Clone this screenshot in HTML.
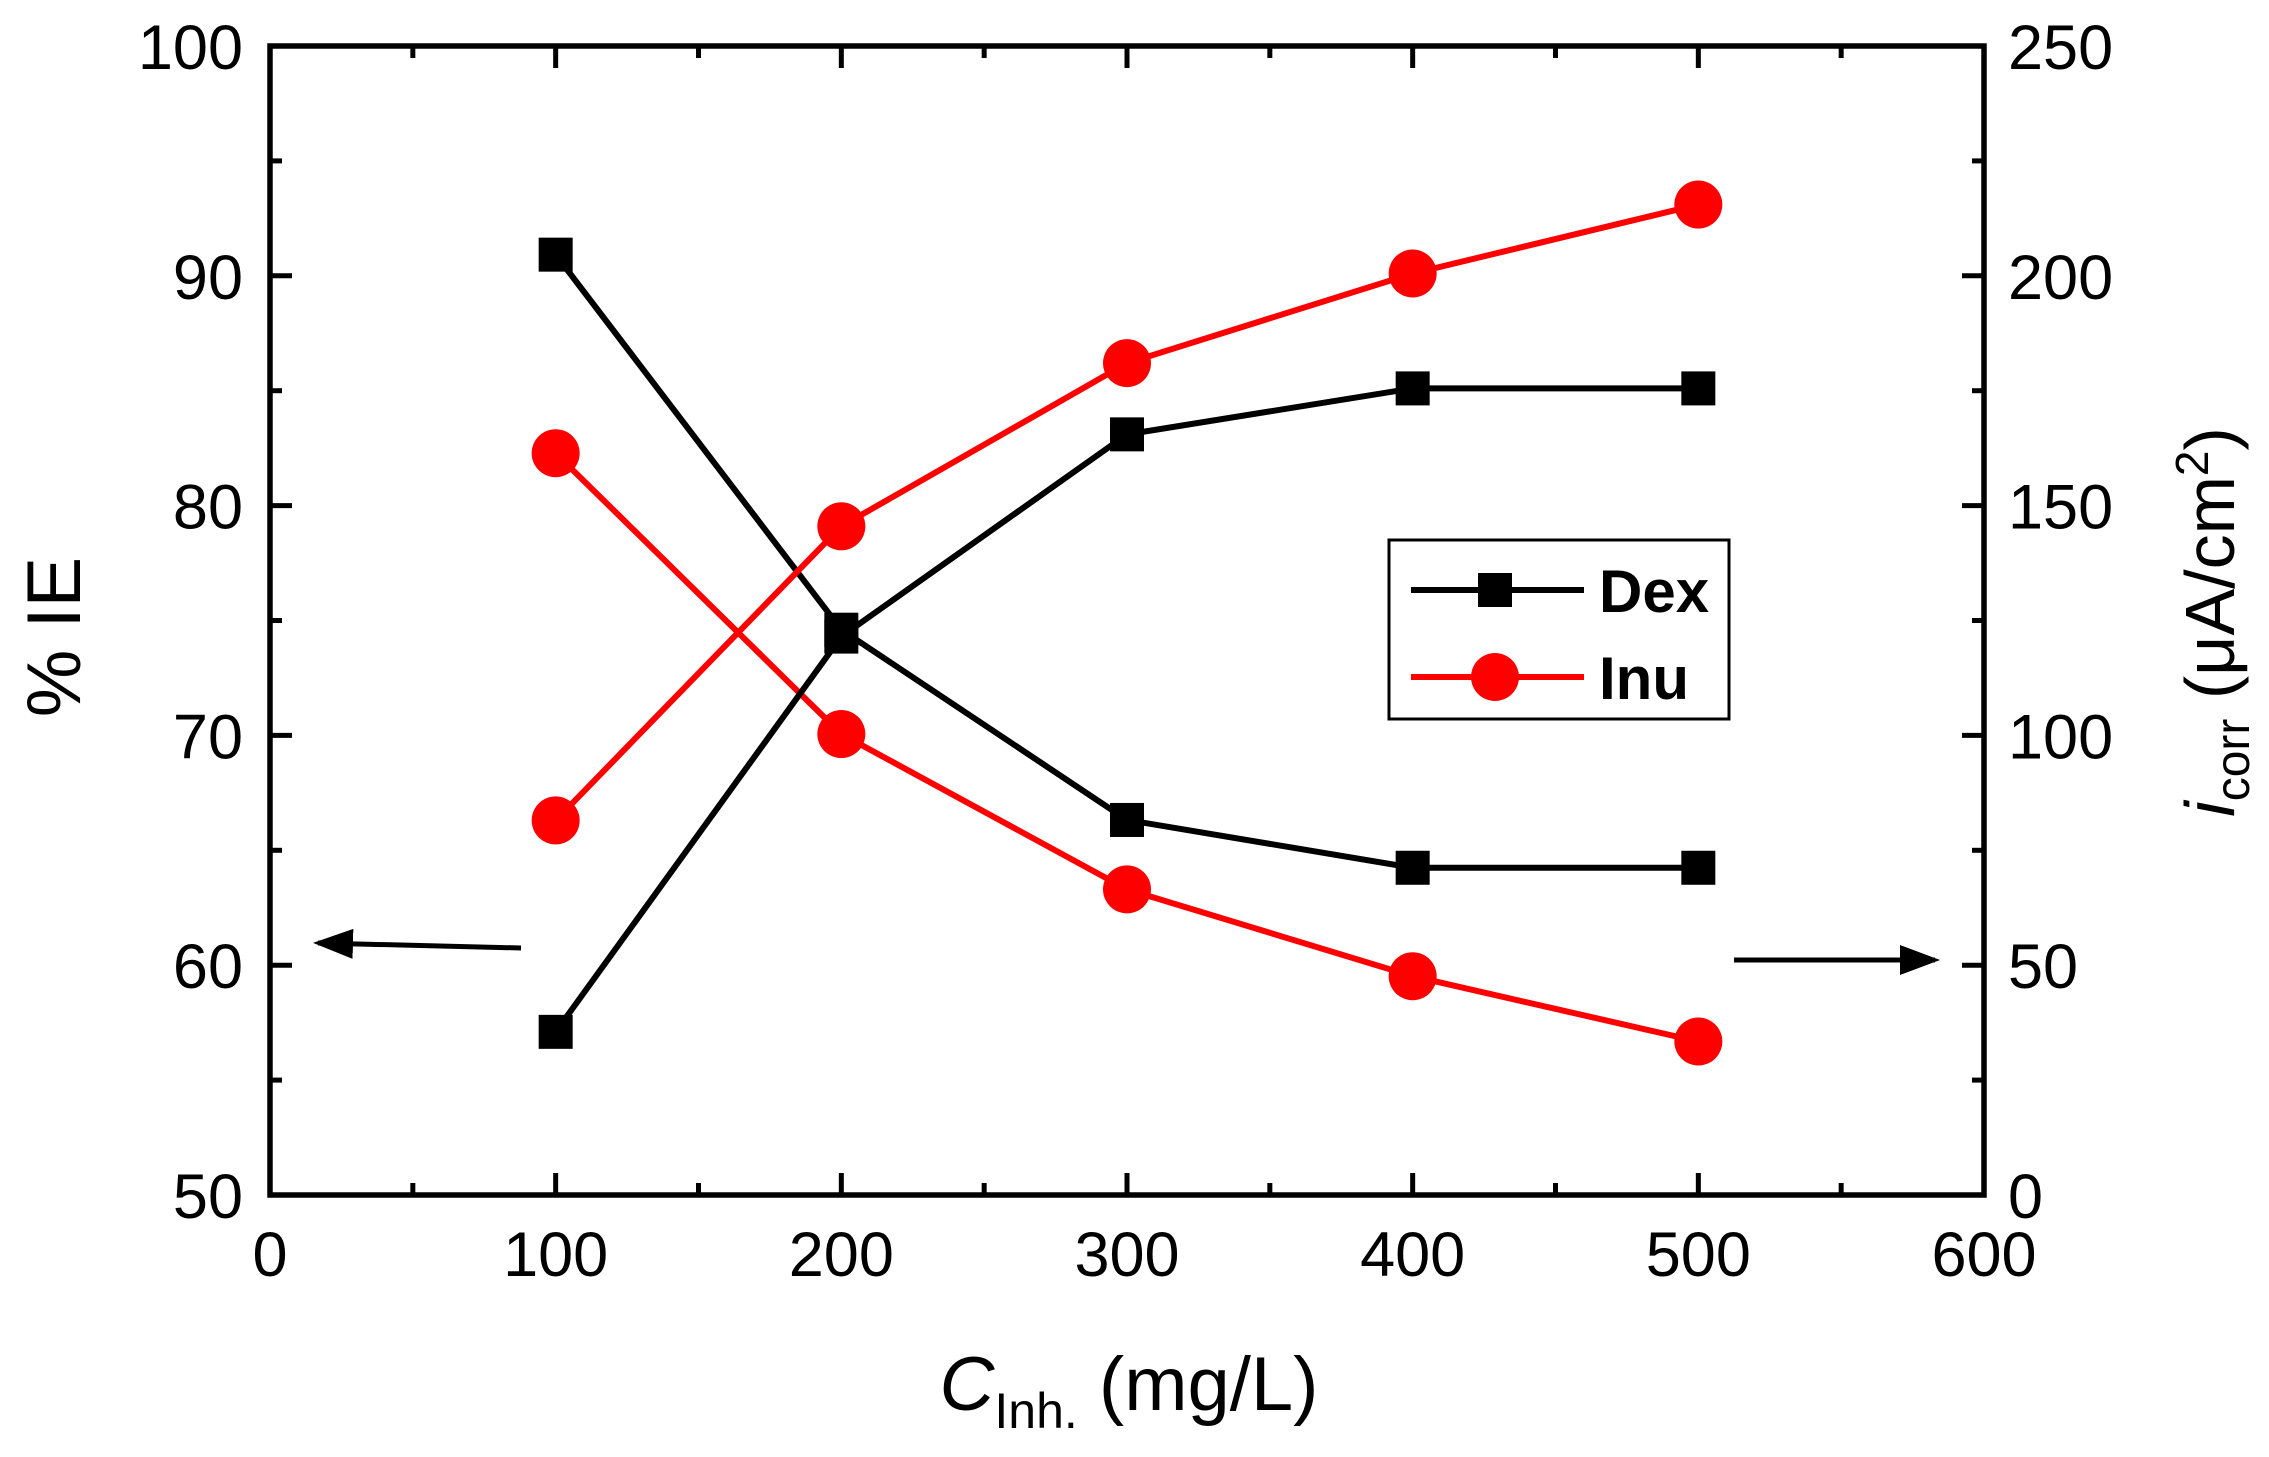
<!DOCTYPE html>
<html><head><meta charset="utf-8"><style>
body{margin:0;background:#fff}
svg text{font-family:"Liberation Sans",sans-serif}
</style></head><body>
<svg id="c" width="2269" height="1452" xmlns="http://www.w3.org/2000/svg">
<g id="marks"></g>
<g id="axes" fill="none" stroke="#000"></g>
</svg>
<script>
const categories=[100,200,300,400,500];
const dexIE=[57.1,74.3,83.1,85.1,85.1];
const dexIcorr=[204.6,123,81.6,71.2,71.2];
const inuIE=[66.3,79.1,86.2,90.1,93.1];
const inuIcorr=[161.4,100.3,66.5,47.6,33.4];
const xTicks=[0,100,200,300,400,500,600];
const yLeftTicks=[50,60,70,80,90,100];
const yRightTicks=[0,50,100,150,200,250];
const L=270,R=1984,T=46,B=1195;
const X=v=>L+(v-0)/600*(R-L);
const YL=v=>B-(v-50)/50*(B-T);
const YR=v=>B-v/250*(B-T);
const NS="http://www.w3.org/2000/svg";
const svg=document.getElementById('c');
const marks=document.getElementById('marks');
function el(t,a,p){const e=document.createElementNS(NS,t);for(const k in a)e.setAttribute(k,a[k]);(p||svg).appendChild(e);return e;}
function series(vals,ys,color,shape,name){
  const g=el('g',{},marks);
  
  
  const pts=vals.map((v,i)=>X(categories[i])+','+ys(v)).join(' ');
  const pl=el('polyline',{points:pts,fill:'none',stroke:color,'stroke-width':6},g);
  
  
  vals.forEach((v,i)=>{
    const cx=X(categories[i]),cy=ys(v);let m;
    if(shape==='sq')m=el('rect',{x:cx-17,y:cy-17,width:34,height:34,fill:color},g);
    else m=el('circle',{cx:cx,cy:cy,r:24,fill:color},g);
    
    
  });
}
series(dexIcorr,YR,'#000','sq','dex-icorr-series');
series(inuIcorr,YR,'#f00','ci','inu-icorr-series');
series(dexIE,YL,'#000','sq','dex-ie-series');
series(inuIE,YL,'#f00','ci','inu-ie-series');
const ax=document.getElementById('axes');
const fr=el('rect',{x:L,y:T,width:R-L,height:B-T,'stroke-width':5.5},ax);


function tick(x1,y1,x2,y2){el('line',{x1:x1,y1:y1,x2:x2,y2:y2,'stroke-width':5},ax);}
for(let v=0;v<=600;v+=50){const x=X(v),len=v%100===0?22:12;tick(x,B,x,B-len);tick(x,T,x,T+len);}
for(let v=50;v<=100;v+=5){const y=YL(v),len=v%10===0?22:12;tick(L,y,L+len,y);}
for(let v=0;v<=250;v+=25){const y=YR(v),len=v%50===0?22:12;tick(R,y,R-len,y);}
xTicks.forEach(v=>{const t=el('text',{x:X(v),y:1276,'font-size':63,'text-anchor':'middle'});t.textContent=v;

});
yLeftTicks.forEach(v=>{const t=el('text',{x:243,y:YL(v)+23,'font-size':63,'text-anchor':'end'});t.textContent=v;

});
yRightTicks.forEach(v=>{const t=el('text',{x:2008,y:YR(v)+23,'font-size':63,'text-anchor':'start'});t.textContent=v;

});
</script>
<svg style="position:absolute;left:0;top:0" width="2269" height="1452" xmlns="http://www.w3.org/2000/svg">
<defs><marker id="ah" markerWidth="8" markerHeight="6" refX="7" refY="3" orient="auto"><path d="M0,0L8,3L0,6z" fill="#000"/></marker></defs>
<line x1="521" y1="948" x2="318" y2="943" stroke="#000" stroke-width="5" marker-end="url(#ah)"/>
<line x1="1734" y1="960" x2="1935" y2="960" stroke="#000" stroke-width="5" marker-end="url(#ah)"/>
<g>
<rect x="1389" y="540" width="340" height="179" fill="#fff" stroke="#000" stroke-width="3"/>
<line x1="1411" y1="590" x2="1584" y2="590" stroke="#000" stroke-width="6"/>
<rect x="1478" y="573" width="34" height="34" fill="#000"/>
<text x="1599" y="612" font-size="60" font-weight="bold" font-family="Liberation Sans,sans-serif">Dex</text>
<line x1="1411" y1="677" x2="1584" y2="677" stroke="#f00" stroke-width="6"/>
<circle cx="1495" cy="677" r="24" fill="#f00"/>
<text x="1599" y="699" font-size="60" font-weight="bold" font-family="Liberation Sans,sans-serif">Inu</text>
</g>
<text transform="translate(80,637) rotate(-90)" text-anchor="middle" font-size="76" font-family="Liberation Sans,sans-serif">% IE</text>
<text x="1129" y="1410" text-anchor="middle" font-size="76" font-family="Liberation Sans,sans-serif"><tspan font-style="italic">C</tspan><tspan font-size="50" dy="18">Inh.</tspan><tspan dy="-18"> (mg/L)</tspan></text>
<text transform="translate(2234,622) rotate(-90)" text-anchor="middle" font-size="70" font-family="Liberation Sans,sans-serif"><tspan font-style="italic">i</tspan><tspan font-size="48" dy="15">corr</tspan><tspan dy="-15"> (μA/cm</tspan><tspan font-size="46" dy="-26">2</tspan><tspan dy="26">)</tspan></text>
</svg>
</body></html>
